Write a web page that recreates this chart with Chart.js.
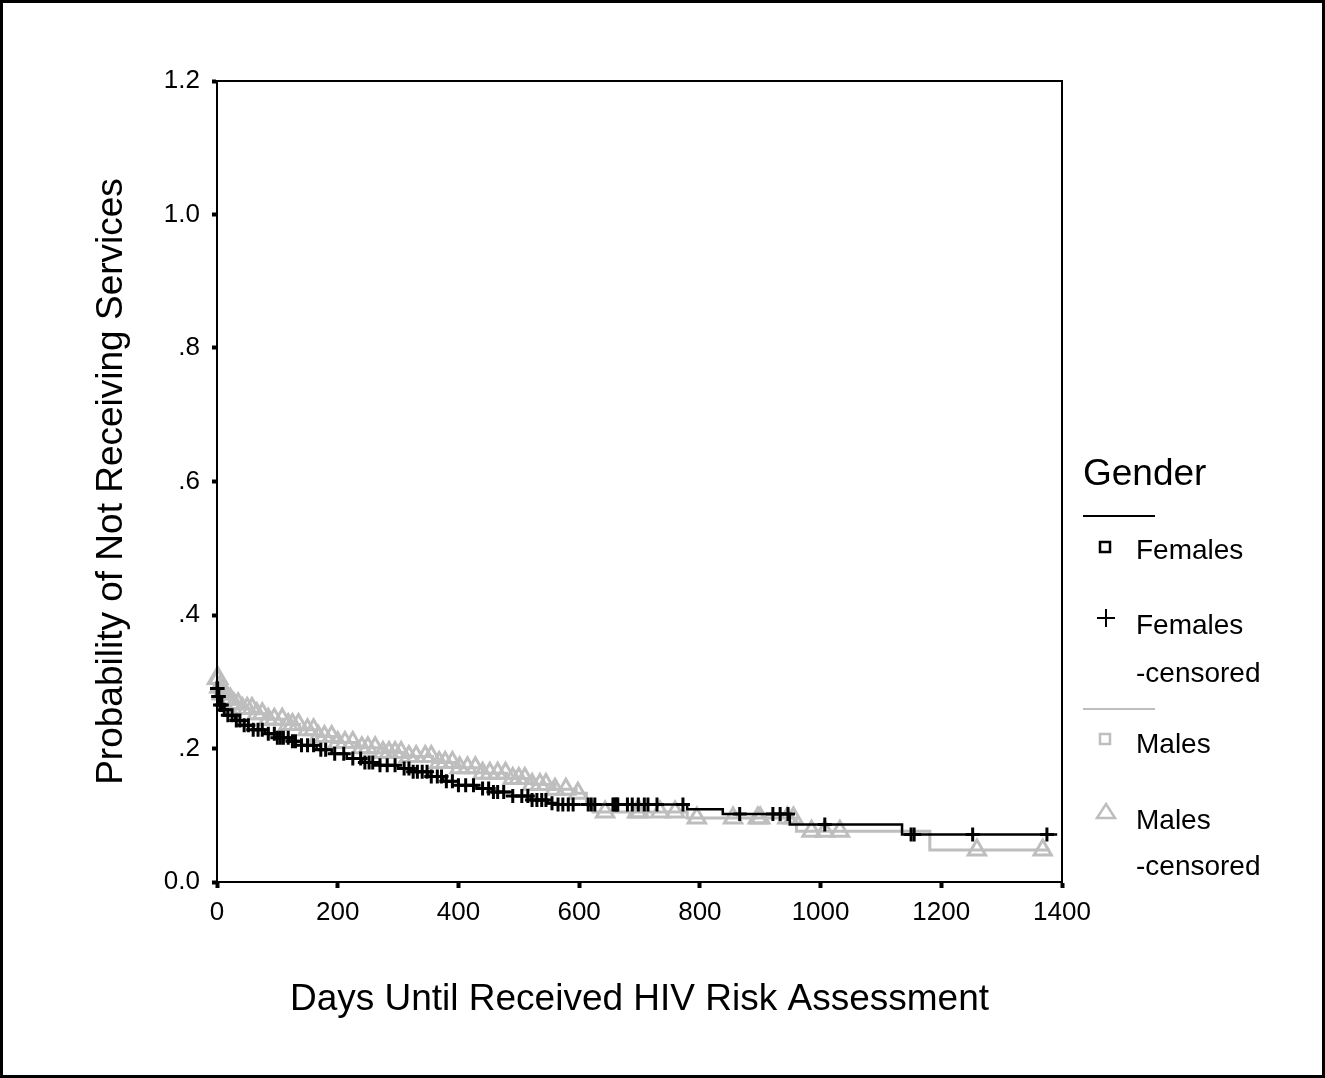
<!DOCTYPE html>
<html>
<head>
<meta charset="utf-8">
<title>Days Until Received HIV Risk Assessment</title>
<script src="https://cdn.jsdelivr.net/npm/chart.js@4.4.0/dist/chart.umd.min.js"></script>
<style>
  html, body { margin: 0; padding: 0; background: #fff; }
  #wrap { position: relative; width: 1325px; height: 1078px; }
</style>
</head>
<body>
<div id="wrap"><canvas id="km"></canvas></div>
<script>
const FONT = "'Liberation Sans', Arial, sans-serif";
const BLACK = '#000000';
const GRAY = '#bebebe';

// Kaplan-Meier steps: day the estimate changes, and the estimate from that day on
const femaleDays = [0, 2, 5, 10, 18, 30, 45, 60, 80, 100, 120, 140, 165, 190, 215, 240, 270, 300, 320, 350, 375, 400, 430, 456, 490, 520, 548, 560, 779, 838, 949, 1135, 1392];
const femaleSurv = [0.290, 0.278, 0.265, 0.258, 0.250, 0.242, 0.235, 0.228, 0.222, 0.216, 0.211, 0.205, 0.198, 0.192, 0.185, 0.179, 0.175, 0.170, 0.165, 0.158, 0.151, 0.145, 0.140, 0.135, 0.129, 0.123, 0.118, 0.116, 0.109, 0.102, 0.086, 0.071, 0.071];
const femaleCensored = [0, 1, 2, 3, 5, 8, 12, 18, 25, 32, 38, 45, 52, 60, 68, 75, 85, 95, 100, 105, 110, 118, 125, 130, 140, 150, 160, 172, 180, 195, 210, 225, 238, 245, 252, 258, 270, 282, 295, 310, 318, 325, 332, 340, 348, 355, 365, 372, 380, 390, 400, 412, 425, 440, 450, 458, 465, 475, 490, 505, 515, 522, 530, 538, 545, 555, 565, 573, 582, 590, 615, 620, 626, 656, 659, 662, 664, 680, 688, 698, 708, 714, 729, 772, 866, 921, 933, 946, 1007, 1150, 1155, 1252, 1375];

const maleDays = [0, 3, 8, 15, 26, 40, 60, 82, 110, 137, 165, 192, 230, 275, 310, 357, 400, 440, 480, 522, 560, 595, 612, 623, 779, 960, 1181, 1380];
const maleSurv = [0.305, 0.292, 0.282, 0.274, 0.267, 0.260, 0.252, 0.244, 0.236, 0.228, 0.218, 0.209, 0.201, 0.194, 0.188, 0.179, 0.171, 0.163, 0.155, 0.146, 0.139, 0.133, 0.120, 0.105, 0.096, 0.076, 0.048, 0.048];
const maleCensored = [0, 2, 4, 6, 8, 10, 14, 18, 22, 28, 35, 42, 50, 58, 66, 75, 85, 95, 108, 118, 125, 135, 150, 160, 168, 178, 190, 200, 212, 225, 240, 250, 262, 275, 285, 295, 305, 318, 330, 345, 355, 368, 378, 390, 402, 415, 428, 440, 452, 465, 478, 490, 500, 510, 522, 535, 545, 560, 578, 598, 643, 696, 700, 734, 759, 795, 855, 896, 900, 945, 955, 985, 1007, 1032, 1259, 1368];

const xTicks = [0, 200, 400, 600, 800, 1000, 1200, 1400];
const xTickLabels = ['0', '200', '400', '600', '800', '1000', '1200', '1400'];
const yTicks = [0, 0.2, 0.4, 0.6, 0.8, 1.0, 1.2];
const yTickLabels = ['0.0', '.2', '.4', '.6', '.8', '1.0', '1.2'];

// estimate in force on a given day
function survAt(days, surv, t) {
  let s = surv[0];
  for (let i = 0; i < days.length; i++) {
    if (days[i] <= t) s = surv[i];
  }
  return s;
}

const toPoints = (days, surv) => days.map((d, i) => ({ x: d, y: surv[i] }));
const censorPoints = (list, days, surv) => list.map(d => ({ x: d, y: survAt(days, surv, d) }));
const labelFor = (ticks, labels, v) => labels[ticks.findIndex(t => Math.abs(t - v) < 1e-6)];

// box round the plot and round the picture, plus the legend
const framePlugin = {
  id: 'frame',
  afterDraw(chart) {
    const { ctx, chartArea: a } = chart;
    ctx.save();
    ctx.strokeStyle = BLACK;
    ctx.lineWidth = 2;
    ctx.strokeRect(a.left, a.top, a.right - a.left, a.bottom - a.top);
    ctx.lineWidth = 3;
    ctx.strokeRect(1.5, 1.5, chart.width - 3, chart.height - 3);

    // legend
    ctx.fillStyle = BLACK;
    ctx.textAlign = 'left';
    ctx.textBaseline = 'alphabetic';
    ctx.font = `37px ${FONT}`;
    ctx.fillText('Gender', 1083, 485);

    ctx.font = `28px ${FONT}`;
    ctx.fillText('Females', 1136, 559);
    ctx.fillText('Females', 1136, 634);
    ctx.fillText('-censored', 1136, 682);
    ctx.fillText('Males', 1136, 753);
    ctx.fillText('Males', 1136, 829);
    ctx.fillText('-censored', 1136, 875);

    ctx.lineWidth = 2;
    ctx.strokeStyle = BLACK;
    ctx.beginPath(); ctx.moveTo(1083, 516); ctx.lineTo(1155, 516); ctx.stroke();
    ctx.lineWidth = 2.5;
    ctx.strokeRect(1100, 542, 10, 10);
    ctx.lineWidth = 2;
    ctx.beginPath();
    ctx.moveTo(1106, 609); ctx.lineTo(1106, 627);
    ctx.moveTo(1097, 618); ctx.lineTo(1115, 618);
    ctx.stroke();

    ctx.strokeStyle = GRAY;
    ctx.beginPath(); ctx.moveTo(1083, 709); ctx.lineTo(1155, 709); ctx.stroke();
    ctx.lineWidth = 2.5;
    ctx.strokeRect(1100, 734, 10, 10);
    ctx.beginPath();
    ctx.moveTo(1106, 804); ctx.lineTo(1115, 818); ctx.lineTo(1097, 818); ctx.closePath();
    ctx.stroke();
    ctx.restore();
  }
};

new Chart(document.getElementById('km'), {
  type: 'scatter',
  data: {
    datasets: [
      {
        label: 'Females',
        type: 'line',
        data: toPoints(femaleDays, femaleSurv),
        stepped: 'before',
        borderColor: BLACK,
        borderWidth: 2.5,
        pointRadius: 0,
        fill: false
      },
      {
        label: 'Females -censored',
        data: censorPoints(femaleCensored, femaleDays, femaleSurv),
        pointStyle: 'cross',
        pointRadius: 7,
        borderColor: BLACK,
        pointBorderWidth: 3,
        clip: false
      },
      {
        label: 'Males',
        type: 'line',
        data: toPoints(maleDays, maleSurv),
        stepped: 'before',
        borderColor: GRAY,
        borderWidth: 3,
        pointRadius: 0,
        fill: false
      },
      {
        label: 'Males -censored',
        data: censorPoints(maleCensored, maleDays, maleSurv),
        pointStyle: 'triangle',
        pointRadius: 10,
        borderColor: GRAY,
        backgroundColor: 'rgba(255,255,255,0)',
        pointBorderWidth: 3,
        clip: false
      }
    ]
  },
  options: {
    responsive: true,
    maintainAspectRatio: false,
    animation: false,
    layout: { padding: { top: 81, right: 263, left: 0, bottom: 0 } },
    plugins: {
      legend: { display: false },
      tooltip: { enabled: false }
    },
    scales: {
      x: {
        type: 'linear',
        min: 0,
        max: 1400,
        afterFit: s => { s.height = 196; },
        afterBuildTicks: s => { s.ticks = xTicks.map(v => ({ value: v })); },
        ticks: {
          color: BLACK,
          font: { family: FONT, size: 26 },
          padding: 9,
          maxRotation: 0,
          autoSkip: false,
          callback: v => labelFor(xTicks, xTickLabels, v)
        },
        grid: { drawOnChartArea: false, drawTicks: true, tickLength: 6, tickWidth: 4, tickColor: BLACK },
        border: { display: true, color: BLACK, width: 2 },
        title: {
          display: true,
          text: 'Days Until Received HIV Risk Assessment',
          color: BLACK,
          font: { family: FONT, size: 37 },
          padding: { top: 0, bottom: 56 }
        }
      },
      y: {
        min: 0,
        max: 1.2,
        afterFit: s => { s.width = 217; },
        afterBuildTicks: s => { s.ticks = yTicks.map(v => ({ value: v })); },
        ticks: {
          color: BLACK,
          font: { family: FONT, size: 26 },
          padding: 12,
          autoSkip: false,
          callback: v => labelFor(yTicks, yTickLabels, v)
        },
        grid: { drawOnChartArea: false, drawTicks: true, tickLength: 5, tickWidth: 4, tickColor: BLACK },
        border: { display: true, color: BLACK, width: 2 },
        title: {
          display: true,
          text: 'Probability of Not Receiving Services',
          color: BLACK,
          font: { family: FONT, size: 37 },
          padding: { top: 90, bottom: 0 }
        }
      }
    }
  },
  plugins: [framePlugin]
});
</script>
</body>
</html>
